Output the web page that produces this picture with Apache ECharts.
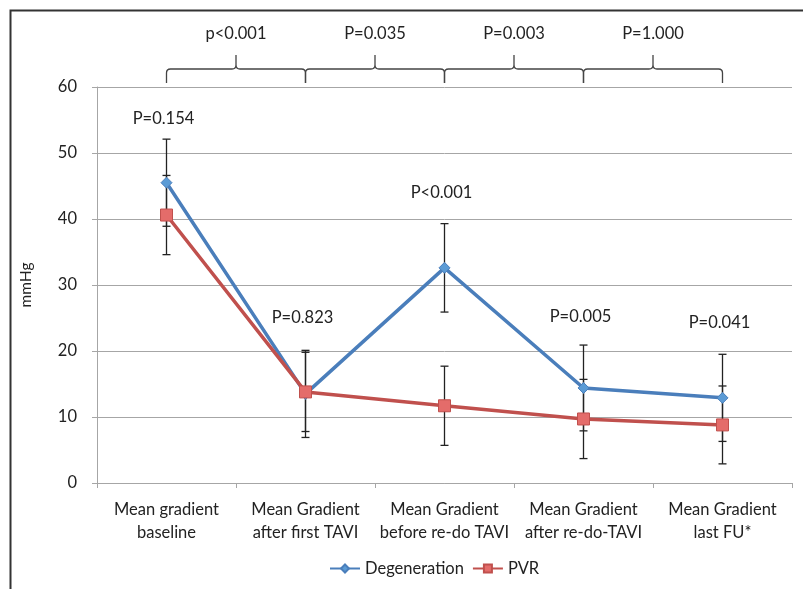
<!DOCTYPE html>
<html>
<head>
<meta charset="utf-8">
<script src="https://cdn.jsdelivr.net/npm/echarts@6/dist/echarts.min.js"></script>
<style>
  html, body { margin: 0; padding: 0; background: #fff; }
  #chart { width: 803px; height: 589px; }
</style>
</head>
<body>
<div id="chart"></div>
<script>
// data
var categories = ['Mean gradient\nbaseline', 'Mean Gradient\nafter first TAVI', 'Mean Gradient\nbefore re-do TAVI',
  'Mean Gradient\nafter re-do-TAVI', 'Mean Gradient\nlast FU*'];
var degeneration = [45.5, 13.5, 32.6, 14.4, 12.9];
var degenerationErr = [6.6, 6.6, 6.7, 6.5, 6.6];
var pvr = [40.6, 13.8, 11.7, 9.7, 8.8];
var pvrErr = [6.0, 6.0, 6.0, 6.0, 5.9];
var pointP = ['P=0.154', 'P=0.823', 'P<0.001', 'P=0.005', 'P=0.041'];
var pointPy = [55.2, 25.0, 44.0, 25.2, 24.3];
var bracketP = ['p<0.001', 'P=0.035', 'P=0.003', 'P=1.000'];

var FONT = 'Lato, "Open Sans", sans-serif';
var FS = 16.5;
var BLUE = '#4a7ebb';
var RED = '#c0504d';

function errData(vals, errs) {
  return vals.map(function (v, i) { return [i, v - errs[i], v + errs[i]]; });
}

function renderErr(params, api) {
  var lo = api.coord([api.value(0), api.value(1)]);
  var hi = api.coord([api.value(0), api.value(2)]);
  var x = lo[0], w = 4;
  var st = { stroke: '#222', lineWidth: 1.3 };
  return {
    type: 'group',
    children: [
      { type: 'line', shape: { x1: x, y1: lo[1], x2: x, y2: hi[1] }, style: st },
      { type: 'line', shape: { x1: x - w, y1: lo[1], x2: x + w, y2: lo[1] }, style: st },
      { type: 'line', shape: { x1: x - w, y1: hi[1], x2: x + w, y2: hi[1] }, style: st }
    ]
  };
}

var chart = echarts.init(document.getElementById('chart'));

var option = {
  animation: false,
  textStyle: { fontFamily: FONT },
  graphic: [{
    type: 'rect', left: 8, top: 8, z: -10,
    shape: { width: 820, height: 620 },
    style: { fill: 'none', stroke: '#333', lineWidth: 2 }
  }],
  grid: { left: 97, right: 11, top: 87, bottom: 106 },
  legend: {
    left: 324, top: 555,
    itemWidth: 30, itemHeight: 10, itemGap: 8,
    textStyle: { fontSize: FS, color: '#222', fontFamily: FONT },
    data: ['Degeneration', 'PVR']
  },
  xAxis: {
    type: 'category',
    data: categories,
    boundaryGap: true,
    axisLine: { lineStyle: { color: '#a6a6a6', width: 1 } },
    axisTick: { show: true, length: 5, lineStyle: { color: '#a6a6a6' } },
    axisLabel: { fontSize: FS, color: '#222', margin: 15, lineHeight: 23, interval: 0 }
  },
  yAxis: {
    type: 'value',
    min: 0, max: 60, interval: 10,
    name: 'mmHg',
    nameLocation: 'middle',
    nameRotate: 90,
    nameGap: 63,
    nameTextStyle: { fontSize: 15.5, color: '#222' },
    axisLine: { show: true, lineStyle: { color: '#a6a6a6', width: 1 } },
    axisTick: { show: true, length: 5, lineStyle: { color: '#a6a6a6' } },
    axisLabel: { fontSize: FS, color: '#222', margin: 20 },
    splitLine: { lineStyle: { color: '#a6a6a6', width: 1 } }
  },
  series: [
    {
      name: 'err-deg', type: 'custom', renderItem: renderErr,
      data: errData(degeneration, degenerationErr), z: 1, silent: true
    },
    {
      name: 'err-pvr', type: 'custom', renderItem: renderErr,
      data: errData(pvr, pvrErr), z: 1, silent: true
    },
    {
      name: 'Degeneration', type: 'line', data: degeneration, z: 3,
      symbol: 'diamond', symbolSize: 11,
      lineStyle: { color: BLUE, width: 3.5 },
      itemStyle: { color: '#5b9bd5', borderColor: '#4a7ebb', borderWidth: 1 }
    },
    {
      name: 'PVR', type: 'line', data: pvr, z: 4,
      symbol: 'rect', symbolSize: 12,
      lineStyle: { color: RED, width: 3.5 },
      itemStyle: { color: '#e46c6a', borderColor: '#c0504d', borderWidth: 1 }
    },
    {
      // p-values above the points
      name: 'point-p', type: 'custom', silent: true, clip: false,
      data: pointPy.map(function (v, i) { return [i, v]; }),
      renderItem: function (params, api) {
        var p = api.coord([api.value(0), api.value(1)]);
        return {
          type: 'text', x: p[0] - 3, y: p[1],
          style: { text: pointP[params.dataIndex], fontSize: FS, fill: '#222', fontFamily: FONT,
            align: 'center', verticalAlign: 'middle' }
        };
      }
    },
    {
      // braces between consecutive time points
      name: 'brackets', type: 'custom', silent: true, clip: false,
      data: bracketP.map(function (t, i) { return [i, i + 1]; }),
      renderItem: function (params, api) {
        var a = api.coord([api.value(0), 60]);
        var b = api.coord([api.value(1), 60]);
        var x0 = a[0], x1 = b[0], top = a[1];
        var yb = top - 4, yh = top - 18, yt = top - 32, xm = (x0 + x1) / 2, r = 4;
        var d = 'M' + x0 + ',' + yb + ' L' + x0 + ',' + (yh + r) + ' Q' + x0 + ',' + yh + ' ' + (x0 + r) + ',' + yh +
          ' L' + (xm - r) + ',' + yh + ' Q' + xm + ',' + yh + ' ' + xm + ',' + (yh - r) + ' L' + xm + ',' + yt +
          ' M' + xm + ',' + (yh - r) + ' Q' + xm + ',' + yh + ' ' + (xm + r) + ',' + yh +
          ' L' + (x1 - r) + ',' + yh + ' Q' + x1 + ',' + yh + ' ' + x1 + ',' + (yh + r) + ' L' + x1 + ',' + yb;
        return {
          type: 'group',
          children: [
            { type: 'path', shape: { pathData: d }, style: { fill: 'none', stroke: '#444', lineWidth: 1.3 } },
            { type: 'text', x: xm, y: top - 53,
              style: { text: bracketP[params.dataIndex], fontSize: FS, fill: '#222', fontFamily: FONT,
                align: 'center', verticalAlign: 'middle' } }
          ]
        };
      }
    }
  ]
};

chart.setOption(option);
</script>
</body>
</html>
